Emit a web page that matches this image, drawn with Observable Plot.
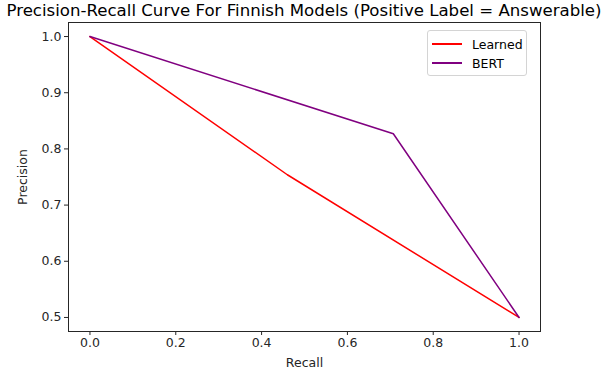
<!DOCTYPE html>
<html>
<head>
<meta charset="utf-8">
<script src="https://cdn.jsdelivr.net/npm/d3@7"></script>
<script src="https://cdn.jsdelivr.net/npm/@observablehq/plot@0.6"></script>
<style>
  html, body { margin: 0; padding: 0; background: #fff; overflow: hidden; }
  #wrap { position: relative; width: 608px; height: 372px; font-family: "DejaVu Sans", sans-serif; }
  #title { display: flex; justify-content: center; width: 608px; height: 20px; white-space: nowrap; font-size: 16.6px; line-height: 22px; color: #000; }
  #title span { flex: none; }
  #legend { position: absolute; left: 427px; top: 30px; width: 100px; height: 46px; box-sizing: border-box; border: 1px solid #d4d4d4; border-radius: 3px; background: rgba(255,255,255,0.8); font-size: 12.5px; color: #000; }
  .item { position: absolute; left: 0; height: 16px; display: flex; align-items: center; }
  .swatch { width: 30px; height: 0; border-top: 2px solid; margin-left: 4px; margin-right: 10px; }
</style>
</head>
<body>
<div id="wrap">
  <div id="title"><span>Precision-Recall Curve For Finnish Models (Positive Label = Answerable)</span></div>
  <div id="chart"></div>
  <div id="legend"></div>
</div>
<script>
const seriesNames = ["Learned", "BERT"];
const seriesColors = ["red", "purple"];
const learnedRecall = [0, 0.46, 1];
const learnedPrecision = [1, 0.754, 0.5];
const bertRecall = [0, 0.707, 1];
const bertPrecision = [1, 0.827, 0.5];
const xTicks = [0, 0.2, 0.4, 0.6, 0.8, 1.0];
const yTicks = [0.5, 0.6, 0.7, 0.8, 0.9, 1.0];

const rows = [
  ...learnedRecall.map((r, i) => ({series: seriesNames[0], recall: r, precision: learnedPrecision[i]})),
  ...bertRecall.map((r, i) => ({series: seriesNames[1], recall: r, precision: bertPrecision[i]}))
];

const chart = Plot.plot({
  width: 608,
  height: 352,
  marginLeft: 68,
  marginRight: 68,
  marginTop: 2,
  marginBottom: 41,
  style: {fontFamily: "DejaVu Sans, sans-serif", fontSize: "12.5px", color: "#262626", background: "#fff"},
  x: {domain: [-0.05, 1.05], ticks: xTicks, tickFormat: d3.format(".1f"), tickSize: 4, tickPadding: 3, label: "Recall", labelAnchor: "center", labelArrow: "none", labelOffset: 35},
  y: {domain: [0.475, 1.025], ticks: yTicks, tickFormat: d3.format(".1f"), tickSize: 4, tickPadding: 3, label: "Precision", labelAnchor: "center", labelArrow: "none", labelOffset: 50},
  color: {domain: seriesNames, range: seriesColors},
  marks: [
    Plot.line(rows, {x: "recall", y: "precision", z: "series", stroke: "series", strokeWidth: 1.5}),
    Plot.frame({stroke: "#262626", strokeWidth: 1})
  ]
});
document.getElementById("chart").appendChild(chart);

const legend = document.getElementById("legend");
seriesNames.forEach((name, i) => {
  const item = document.createElement("div");
  item.className = "item";
  item.style.top = (5 + i * 19) + "px";
  const sw = document.createElement("div");
  sw.className = "swatch";
  sw.style.borderColor = seriesColors[i];
  item.appendChild(sw);
  const t = document.createElement("span");
  t.textContent = name;
  item.appendChild(t);
  legend.appendChild(item);
});
</script>
</body>
</html>
